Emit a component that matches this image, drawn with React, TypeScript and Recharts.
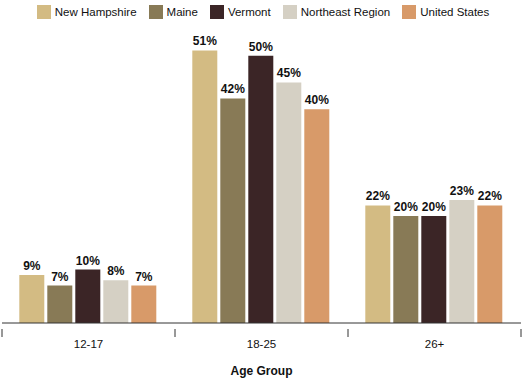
import { BarChart, Bar, XAxis, YAxis, Legend, LabelList } from "recharts";

const ageGroups = ["12-17", "18-25", "26+"];
const newHampshire = [9, 51, 22];
const maine = [7, 42, 20];
const vermont = [10, 50, 20];
const northeast = [8, 45, 23];
const unitedStates = [7, 40, 22];

const series = [
  { key: "nh", name: "New Hampshire", values: newHampshire, color: "#D3BB83" },
  { key: "me", name: "Maine", values: maine, color: "#887A56" },
  { key: "vt", name: "Vermont", values: vermont, color: "#3B2526" },
  { key: "ne", name: "Northeast Region", values: northeast, color: "#D5D0C4" },
  { key: "us", name: "United States", values: unitedStates, color: "#D89A69" },
];

const data = ageGroups.map((group, i) => {
  const row: Record<string, string | number> = { group };
  series.forEach((s) => {
    row[s.key] = s.values[i];
  });
  return row;
});

const font = "Arial, 'Liberation Sans', sans-serif";
const W = 530;
const H = 383;
const margin = { top: 5, right: 9, bottom: 0, left: 2 };
const halfBand = (W - margin.left - margin.right) / ageGroups.length / 2;

// tick label plus tick marks on the category edges
const EdgeTick = (props: any) => {
  const { x, y, payload, index } = props;
  const top = y - 11;
  return (
    <g>
      <line x1={x - halfBand} y1={top} x2={x - halfBand} y2={top + 8} stroke="#333" />
      {index === ageGroups.length - 1 && (
        <line x1={x + halfBand} y1={top} x2={x + halfBand} y2={top + 8} stroke="#333" />
      )}
      <text x={x} y={y} dy="0.71em" textAnchor="middle" fill="#111" fontSize={11.5} fontFamily={font}>
        {payload.value}
      </text>
    </g>
  );
};

const LegendContent = () => (
  <div style={{ display: "flex", justifyContent: "center", fontSize: 11.5, fontFamily: font, color: "#111", paddingLeft: 3 }}>
    {series.map((s, i) => (
      <div
        key={s.key}
        style={{ display: "flex", alignItems: "center", marginRight: i === series.length - 1 ? 0 : 12 }}
      >
        <span style={{ width: 14, height: 14, background: s.color, marginRight: 4, display: "inline-block" }} />
        <span>{s.name}</span>
      </div>
    ))}
  </div>
);

const App = () => {
  return (
    <div style={{ position: "absolute", left: 0, top: 0, fontFamily: font }}>
      <BarChart
        width={W}
        height={H}
        data={data}
        margin={margin}
        barCategoryGap="10%"
        barGap={3}
      >
        <XAxis
          dataKey="group"
          height={60}
          stroke="#333"
          tickLine={false}
          tickMargin={11}
          tick={<EdgeTick />}
          label={{
            value: "Age Group",
            position: "insideBottom",
            offset: 8,
            fill: "#111",
            fontSize: 12,
            fontWeight: "bold",
            fontFamily: font,
          }}
        />
        <YAxis hide domain={[0, 55]} />
        <Legend verticalAlign="top" height={24} content={<LegendContent />} />
        {series.map((s) => (
          <Bar
            key={s.key}
            dataKey={s.key}
            name={s.name}
            fill={s.color}
            isAnimationActive={false}
          >
            <LabelList
              dataKey={s.key}
              position="top"
              offset={5}
              formatter={(v: any) => `${v}%`}
              style={{ fill: "#111", fontSize: 12, fontWeight: "bold", fontFamily: font }}
            />
          </Bar>
        ))}
      </BarChart>
    </div>
  );
};

export default App;
